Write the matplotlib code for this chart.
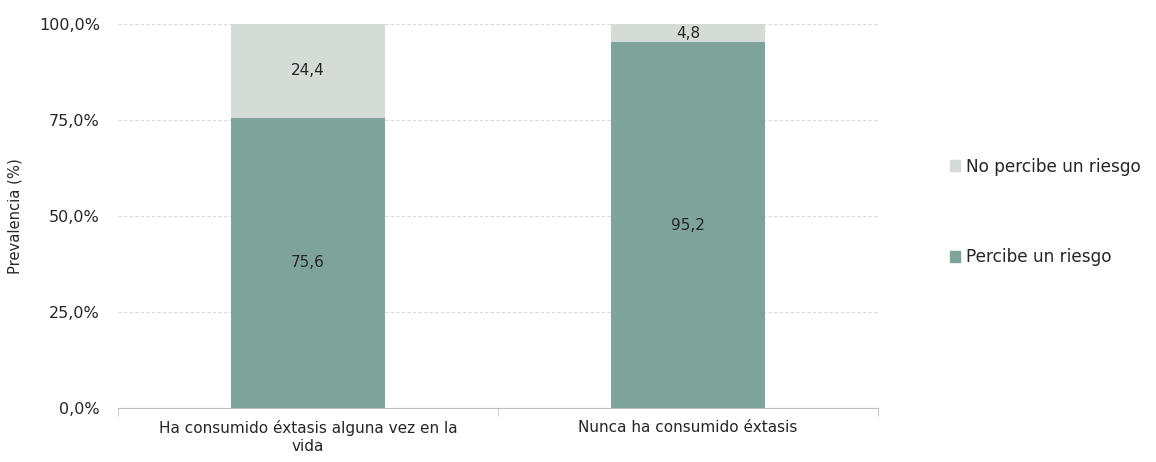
import matplotlib
matplotlib.use("Agg")
import matplotlib.pyplot as plt
from matplotlib.patches import Patch
from matplotlib.ticker import FuncFormatter, FixedLocator

# data
categories = ["Ha consumido éxtasis alguna vez en la\nvida", "Nunca ha consumido éxtasis"]
percibe = [75.6, 95.2]
no_percibe = [24.4, 4.8]
series_names = ["Percibe un riesgo", "No percibe un riesgo"]

DARK = "#7ea39b"
LIGHT = "#d5dcd8"
TXT = "#262626"

plt.rcParams['font.family'] = ['DejaVu Sans']

fig = plt.figure(figsize=(11.56, 4.62), dpi=100)
ax = fig.add_axes([118 / 1156, 1 - 408 / 462, 760 / 1156, 384 / 462])

x = list(range(len(categories)))
ax.bar(x, percibe, width=0.405, color=DARK, zorder=3)
ax.bar(x, no_percibe, width=0.405, bottom=percibe, color=LIGHT, zorder=3)

def fmt(v):
    return ("%.1f" % v).replace(".", ",")

for i in x:
    ax.text(i, percibe[i] / 2, fmt(percibe[i]), ha='center', va='center', color=TXT,
            fontsize=11, zorder=4)
    ax.text(i, percibe[i] + no_percibe[i] / 2, fmt(no_percibe[i]), ha='center', va='center',
            color=TXT, fontsize=11, zorder=4)

ax.set_xlim(-0.5, 1.5)
ax.set_ylim(0, 100)
ax.set_yticks([0, 25, 50, 75, 100])
ax.yaxis.set_major_formatter(FuncFormatter(lambda v, p: fmt(v) + "%"))
ax.grid(axis='y', color='#d9d9d9', linestyle=(0, (3, 2)), linewidth=0.8, zorder=0)

ax.set_xticks(x)
ax.set_xticklabels(categories, color=TXT, fontsize=11, linespacing=1.2)
ax.xaxis.set_minor_locator(FixedLocator([-0.5, 0.5, 1.5]))
ax.tick_params(axis='x', which='major', length=0, pad=9)
ax.tick_params(axis='x', which='minor', length=6, color='#bfbfbf', direction='out')
ax.tick_params(axis='y', length=0, pad=13, colors=TXT, labelsize=11.5)

for s in ['top', 'right', 'left']:
    ax.spines[s].set_visible(False)
ax.spines['bottom'].set_color('#bfbfbf')

ax.set_ylabel("Prevalencia (%)", color=TXT, fontsize=10.6, labelpad=12)

handles = [Patch(color=LIGHT), Patch(color=DARK)]
fig.legend(handles, [series_names[1], series_names[0]], loc='center left',
           bbox_to_anchor=(935 / 1156, 1 - 212 / 462), frameon=False, fontsize=12.2,
           handlelength=0.6, handleheight=0.6, handletextpad=0.3, labelspacing=4.3,
           labelcolor=TXT)

fig.savefig("out.png", dpi=100)
